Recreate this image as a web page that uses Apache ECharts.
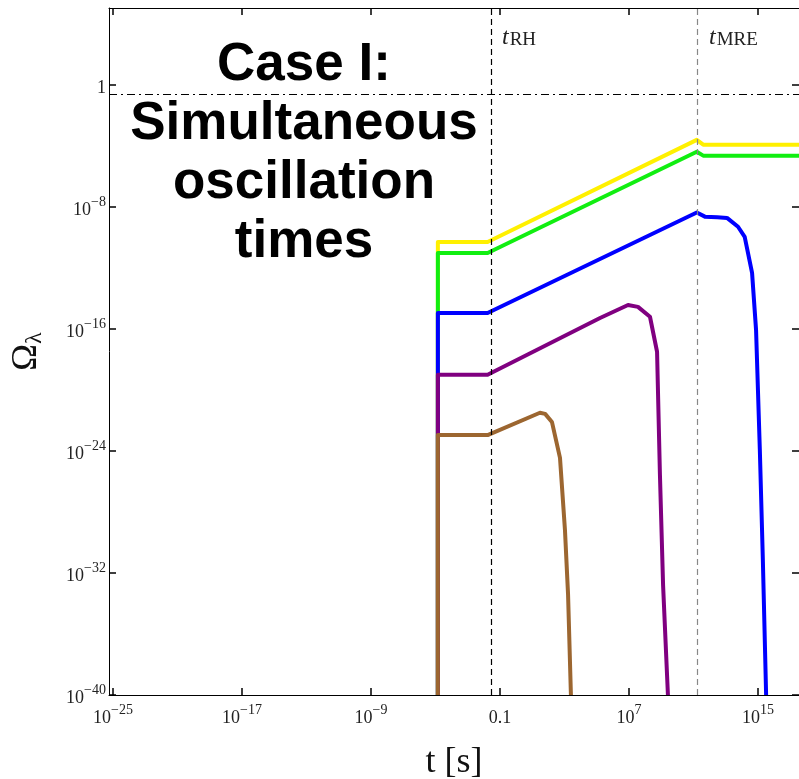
<!DOCTYPE html>
<html>
<head>
<meta charset="utf-8">
<script src="https://cdn.jsdelivr.net/npm/echarts@6/dist/echarts.min.js"></script>
<style>
  html, body { margin: 0; padding: 0; background: #fff; }
  #main { width: 799px; height: 779px; }
</style>
</head>
<body>
<div id="main"></div>
<script>
// tick values
const tTicks = [1e-25, 1e-17, 1e-9, 0.1, 1e7, 1e15]
const omegaTicks = [1e-40, 1e-32, 1e-24, 1e-16, 1e-8, 1]

// reference lines
const tRH = 3.2e-2
const tMRE = 1.6e11
const omegaDM = 0.26

// curves (t in s, Omega)
const yellowT = [1.4e-5, 1.4e-5, 1.7e-2, 1.6e11, 4e11, 1e18]
const yellowOmega = [1e-40, 5e-11, 5e-11, 2.5e-4, 1.2e-4, 1.2e-4]

const greenT = [1.4e-5, 1.4e-5, 1.7e-2, 1.6e11, 4e11, 1e18]
const greenOmega = [1e-40, 9.5e-12, 9.5e-12, 4.1e-5, 2.3e-5, 2.3e-5]

const blueT = [1.4e-5, 1.4e-5, 1.7e-2, 1.6e11, 5.1e11, 3e12, 1.2e13, 5.8e13, 1.5e14, 4.3e14, 7.6e14, 1.3e15, 2e15, 3.2e15]
const blueOmega = [1e-40, 1.1e-15, 1.1e-15, 4.3e-9, 2.3e-9, 2.1e-9, 1.9e-9, 5e-10, 1.1e-10, 4.7e-13, 8.5e-17, 1.3e-24, 8e-32, 1e-40]

const purpleT = [1.4e-5, 1.4e-5, 1.7e-2, 1.6e5, 8.7e6, 3.6e7, 2e8, 5.5e8, 8.3e8, 1.3e9, 2.6e9]
const purpleOmega = [1e-40, 1e-19, 1e-19, 5.2e-16, 3.7e-15, 2.8e-15, 6.3e-16, 3.2e-18, 2.7e-26, 1.6e-33, 1e-40]

const brownT = [1.4e-5, 1.4e-5, 1.7e-2, 30, 63, 166, 525, 1.07e3, 1.66e3, 2.5e3]
const brownOmega = [1e-40, 1.1e-23, 1.1e-23, 3.2e-22, 2.7e-22, 8e-23, 3.5e-25, 6.3e-30, 4e-34, 1e-40]

const serif = 'Liberation Serif'

function pair(ts, vs) {
  return ts.map((t, i) => [t, vs[i]])
}

// 10^n labels with a superscript
function powLabel(v) {
  const e = Math.round(Math.log10(v))
  if (e === 0) return '{b|1}'
  if (e === -1) return '{b|0.1}'
  return '{b|10}{sup|' + (e < 0 ? '\u2212' + (-e) : e) + '}'
}

const labelRich = {
  b: { fontSize: 18, fontFamily: serif, color: '#222', lineHeight: 24, verticalAlign: 'bottom' },
  sup: { fontSize: 14, fontFamily: serif, color: '#222', lineHeight: 14, verticalAlign: 'top' }
}

function axisBase(ticks, showLabel, margin) {
  return {
    axisLine: { show: true, onZero: false, lineStyle: { color: '#000', width: 1 } },
    axisTick: { show: true, inside: true, length: 7, customValues: ticks, lineStyle: { color: '#000', width: 1.5 } },
    axisLabel: { show: showLabel, customValues: ticks, formatter: powLabel, rich: labelRich, margin: margin },
    splitLine: { show: false }
  }
}

function curve(name, color, ts, vs) {
  return {
    name: name,
    type: 'line',
    data: pair(ts, vs),
    showSymbol: false,
    symbol: 'none',
    clip: true,
    lineStyle: { color: color, width: 4, join: 'round' },
    itemStyle: { color: color },
    silent: true
  }
}

const subLabel = {
  t: { fontFamily: serif, fontStyle: 'italic', fontSize: 24, fill: '#222', verticalAlign: 'top', lineHeight: 24 },
  s: { fontFamily: serif, fontSize: 19, fill: '#222', verticalAlign: 'bottom', lineHeight: 20, padding: [10, 0, 0, 1] }
}

const chart = echarts.init(document.getElementById('main'))

const option = {
  backgroundColor: '#fff',
  animation: false,
  grid: { left: 109, right: 0, top: 8, bottom: 84, containLabel: false, outerBoundsMode: 'none' },
  xAxis: [
    Object.assign({
      type: 'log', logBase: 10, min: 5.6e-26, max: 3.5e17, position: 'bottom',
      name: 't [s]', nameLocation: 'middle', nameGap: 50,
      nameTextStyle: { fontFamily: serif, fontSize: 36, color: '#111' }
    }, axisBase(tTicks, true, 8)),
    Object.assign({ type: 'log', logBase: 10, min: 5.6e-26, max: 3.5e17, position: 'top' }, axisBase(tTicks, false, 8))
  ],
  yAxis: [
    Object.assign({
      type: 'log', logBase: 10, min: 1e-40, max: 1.1e5, position: 'left',
      name: '\u03a9{s|\u03bb}', nameLocation: 'middle', nameGap: 62, nameRotate: 90,
      nameTextStyle: {
        fontFamily: serif, fontSize: 36, color: '#111',
        rich: { s: { fontFamily: serif, fontSize: 24, color: '#111', padding: [16, 0, 0, 0] } }
      }
    }, axisBase(omegaTicks, true, 3)),
    Object.assign({ type: 'log', logBase: 10, min: 1e-40, max: 1.1e5, position: 'right' }, axisBase(omegaTicks, false, 3))
  ],
  series: [
    {
      type: 'line',
      data: [],
      silent: true,
      markLine: {
        silent: true,
        symbol: 'none',
        label: { show: false },
        data: [
          { xAxis: tRH, lineStyle: { color: '#000', type: [6, 4], width: 1.2 } },
          { xAxis: tMRE, lineStyle: { color: '#888', type: [6, 4], width: 1.2 } },
          { yAxis: omegaDM, lineStyle: { color: '#000', type: [8, 4, 2, 4], width: 1.2 } }
        ]
      }
    },
    curve('yellow', '#FFF000', yellowT, yellowOmega),
    curve('green', '#11EE11', greenT, greenOmega),
    curve('blue', '#0000FF', blueT, blueOmega),
    curve('purple', '#800080', purpleT, purpleOmega),
    curve('brown', '#9C6630', brownT, brownOmega)
  ],
  graphic: [
    {
      type: 'text', x: 304, y: 36, silent: true,
      style: {
        text: 'Case I:\nSimultaneous\noscillation\ntimes',
        fontFamily: 'Liberation Sans', fontWeight: 'bold', fontSize: 53, lineHeight: 59,
        textAlign: 'center', textVerticalAlign: 'top', fill: '#000'
      }
    },
    { type: 'text', x: 502, y: 26, silent: true, style: { text: '{t|t}{s|RH}', rich: subLabel } },
    { type: 'text', x: 709, y: 26, silent: true, style: { text: '{t|t}{s|MRE}', rich: subLabel } }
  ]
}

chart.setOption(option)
</script>
</body>
</html>
